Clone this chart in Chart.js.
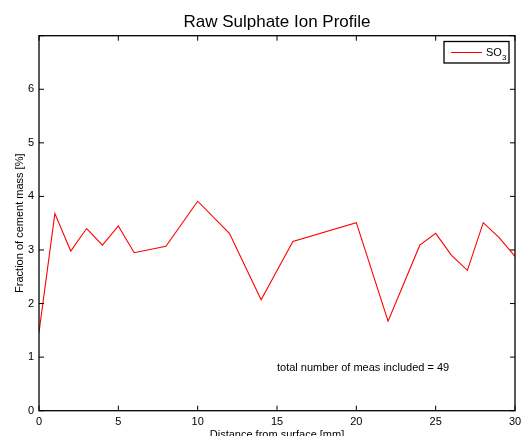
<!DOCTYPE html>
<html lang="en">
  <head>
    <meta charset="UTF-8" />
    <title>Raw Sulphate Ion Profile</title>
    <script src="https://cdn.jsdelivr.net/npm/chart.js"></script>
    <style>
      body {
        margin: 0;
        background: #ffffff;
      }
      canvas {
        display: block;
      }
    </style>
  </head>
  <body>
    <canvas id="profile" width="521" height="436"></canvas>

    <script>
      // Depth below the surface [mm] and SO3 content [% of cement mass]
      const depth = [0, 1, 2, 3, 4, 5, 6, 8, 10, 12, 14, 16, 20, 22, 24, 25, 26, 27, 28, 29, 30];
      const so3 = [1.46, 3.68, 2.98, 3.4, 3.09, 3.45, 2.95, 3.07, 3.91, 3.31, 2.07, 3.16, 3.51, 1.67, 3.09, 3.31, 2.9, 2.62, 3.51, 3.23, 2.88];
      const xTicks = [0, 5, 10, 15, 20, 25, 30];
      const yTicks = [0, 1, 2, 3, 4, 5, 6];
      const measCount = 49;

      const font = "Liberation Sans, Arial, Helvetica, sans-serif";

      // frame, inward tick marks, titles, legend and note drawn over the plot
      const matlabFrame = {
        id: "matlabFrame",
        afterDraw(chart) {
          const { ctx, chartArea: a, scales } = chart;
          const x = scales.x;
          const y = scales.y;
          ctx.save();
          ctx.strokeStyle = "#000";
          ctx.lineWidth = 1.3;
          ctx.strokeRect(a.left, a.top, a.right - a.left, a.bottom - a.top);

          ctx.lineWidth = 1;
          ctx.beginPath();
          x.ticks.forEach((t) => {
            const px = x.getPixelForValue(t.value);
            ctx.moveTo(px, a.bottom);
            ctx.lineTo(px, a.bottom - 5);
            ctx.moveTo(px, a.top);
            ctx.lineTo(px, a.top + 5);
          });
          y.ticks.forEach((t) => {
            const py = y.getPixelForValue(t.value);
            ctx.moveTo(a.left, py);
            ctx.lineTo(a.left + 5, py);
            ctx.moveTo(a.right, py);
            ctx.lineTo(a.right - 5, py);
          });
          ctx.stroke();

          ctx.fillStyle = "#000";
          ctx.textAlign = "center";
          const cx = (a.left + a.right) / 2;

          ctx.font = "17px " + font;
          ctx.textBaseline = "alphabetic";
          ctx.fillText("Raw Sulphate Ion Profile", cx, 27);

          ctx.font = "11px " + font;
          ctx.textBaseline = "top";
          ctx.fillText("Distance from surface [mm]", cx, 429);

          ctx.save();
          ctx.translate(20, (a.top + a.bottom) / 2);
          ctx.rotate(-Math.PI / 2);
          ctx.textBaseline = "middle";
          ctx.fillText("Fraction of cement mass [%]", 0, 0);
          ctx.restore();

          // note placed in data coordinates
          ctx.textAlign = "left";
          ctx.textBaseline = "middle";
          ctx.fillText(
            "total number of meas included = " + measCount,
            x.getPixelForValue(15),
            y.getPixelForValue(0.8)
          );

          // legend box
          const lx = 444, ly = 41.5, lw = 65, lh = 21.5;
          ctx.fillStyle = "#fff";
          ctx.fillRect(lx, ly, lw, lh);
          ctx.strokeStyle = "#000";
          ctx.lineWidth = 1.3;
          ctx.strokeRect(lx, ly, lw, lh);
          ctx.strokeStyle = "#ff0000";
          ctx.lineWidth = 1;
          ctx.beginPath();
          ctx.moveTo(451, 52.5);
          ctx.lineTo(482, 52.5);
          ctx.stroke();
          ctx.fillStyle = "#000";
          ctx.font = "11px " + font;
          ctx.textBaseline = "alphabetic";
          ctx.fillText("SO", 486, 56);
          const w = ctx.measureText("SO").width;
          ctx.font = "8px " + font;
          ctx.fillText("3", 486 + w, 59.5);
          ctx.restore();
        },
      };

      new Chart(document.getElementById("profile"), {
        type: "scatter",
        data: {
          datasets: [
            {
              label: "SO3",
              data: depth.map((d, i) => ({ x: d, y: so3[i] })),
              showLine: true,
              borderColor: "#ff0000",
              backgroundColor: "#ff0000",
              borderWidth: 1.1,
              pointRadius: 0,
              tension: 0,
            },
          ],
        },
        options: {
          responsive: false,
          animation: false,
          layout: { padding: { top: 35.7, right: 6, left: 0, bottom: 0 } },
          plugins: {
            legend: { display: false },
            tooltip: { enabled: false },
          },
          scales: {
            x: {
              type: "linear",
              min: 0,
              max: 30,
              afterBuildTicks: (s) => {
                s.ticks = xTicks.map((v) => ({ value: v }));
              },
              afterFit: (s) => {
                s.height = 25.3;
                s.paddingLeft = 0;
                s.paddingRight = 0;
              },
              grid: { display: false, drawTicks: false },
              border: { display: false },
              ticks: {
                color: "#000",
                padding: 5,
                maxRotation: 0,
                font: { family: font, size: 11 },
              },
            },
            y: {
              type: "linear",
              min: 0,
              max: 7,
              afterBuildTicks: (s) => {
                s.ticks = yTicks.concat([7]).map((v) => ({ value: v }));
              },
              afterFit: (s) => {
                s.width = 39;
                s.paddingTop = 0;
                s.paddingBottom = 0;
              },
              grid: { display: false, drawTicks: false },
              border: { display: false },
              ticks: {
                color: "#000",
                padding: 5,
                font: { family: font, size: 11 },
                callback: (v) => (yTicks.includes(v) ? v : ""),
              },
            },
          },
        },
        plugins: [matlabFrame],
      });
    </script>
  </body>
</html>
